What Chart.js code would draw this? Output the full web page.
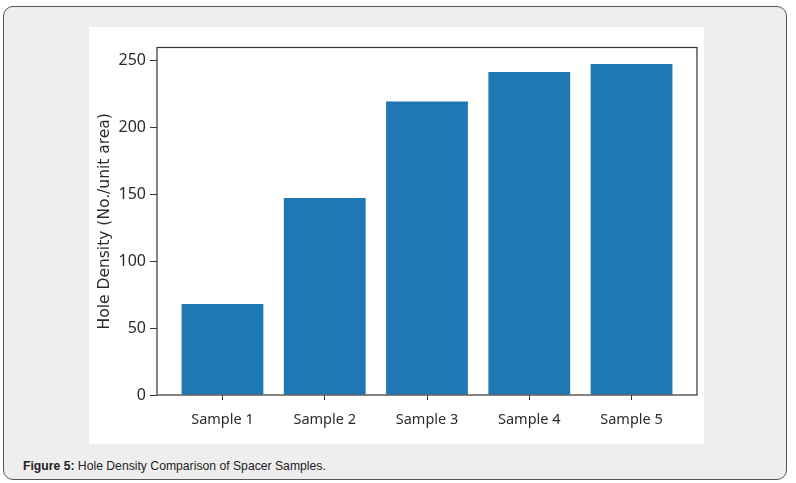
<!DOCTYPE html>
<html>
<head>
<meta charset="utf-8">
<script src="https://cdn.jsdelivr.net/npm/chart.js@4/dist/chart.umd.min.js"></script>
<style>
  html, body { margin: 0; padding: 0; background: #ffffff; }
  body { width: 796px; height: 483px; position: relative; overflow: hidden; }
  #frame {
    position: absolute; left: 3px; top: 6px; width: 782px; height: 472px;
    background: #eeeeee; border: 1px solid #555; border-radius: 10px;
  }
  #wrap {
    position: absolute; left: 89px; top: 27px; width: 615px; height: 417px; background: #ffffff;
  }
  #caption {
    position: absolute; left: 23px; top: 459px;
    font-family: "Liberation Sans", Arial, sans-serif; font-size: 12.2px; color: #222;
  }
</style>
</head>
<body>
<div id="frame"></div>
<div id="wrap"><canvas id="c" width="615" height="417"></canvas></div>
<div id="caption"><b>Figure 5:</b> Hole Density Comparison of Spacer Samples.</div>
<script>
const categories = ["Sample 1", "Sample 2", "Sample 3", "Sample 4", "Sample 5"];
const holeDensity = [68, 147, 219, 241, 247];
const yTicks = [0, 50, 100, 150, 200, 250];
const yTitle = "Hole Density (No./unit area)";

const frameBox = {
  id: 'frameBox',
  afterDatasetsDraw(chart) {
    const { ctx, chartArea: a } = chart;
    ctx.save();
    ctx.strokeStyle = '#333';
    ctx.lineWidth = 1.2;
    ctx.strokeRect(a.left, a.top, a.right - a.left, a.bottom - a.top);
    ctx.restore();
  }
};

const font = { family: '"Noto Sans", "Open Sans", sans-serif', size: 14.5 };
const yFont = { family: '"Noto Sans", "Open Sans", sans-serif', size: 16 };
const titleFont = { family: '"DejaVu Sans", sans-serif', size: 15.5 };

new Chart(document.getElementById('c'), {
  type: 'bar',
  data: {
    datasets: [{
      data: holeDensity.map((v, i) => ({ x: i, y: v })),
      backgroundColor: '#1f77b4',
      borderWidth: 0,
      categoryPercentage: 1,
      barPercentage: 0.8
    }]
  },
  options: {
    responsive: false,
    animation: false,
    layout: { padding: { top: 20.5, right: 7, left: 0, bottom: 0 } },
    plugins: { legend: { display: false }, tooltip: { enabled: false } },
    scales: {
      x: {
        type: 'linear',
        offset: false,
        min: -0.64, max: 4.64,
        afterBuildTicks: s => { s.ticks = categories.map((c, i) => ({ value: i })); },
        afterFit: s => { s.height = 49; },
        ticks: {
          callback: v => categories[v] ?? '',
          font, color: '#2b2b2b', padding: 11, maxRotation: 0, autoSkip: false
        },
        grid: { display: true, offset: false, drawOnChartArea: false, drawTicks: true, tickLength: 5, tickColor: '#333', color: '#333' },
        border: { display: false }
      },
      y: {
        min: 0, max: 259.35,
        afterBuildTicks: s => { s.ticks = yTicks.map(v => ({ value: v })); },
        afterFit: s => { s.width = 68; },
        ticks: { font: yFont, color: '#2b2b2b', padding: 4 },
        grid: { display: true, drawOnChartArea: false, drawTicks: true, tickLength: 7, tickColor: '#333', color: '#333' },
        border: { display: false },
        title: { display: true, text: yTitle, font: titleFont, color: '#2b2b2b', padding: { top: 7, bottom: 0 } }
      }
    }
  },
  plugins: [frameBox]
});
</script>
</body>
</html>
